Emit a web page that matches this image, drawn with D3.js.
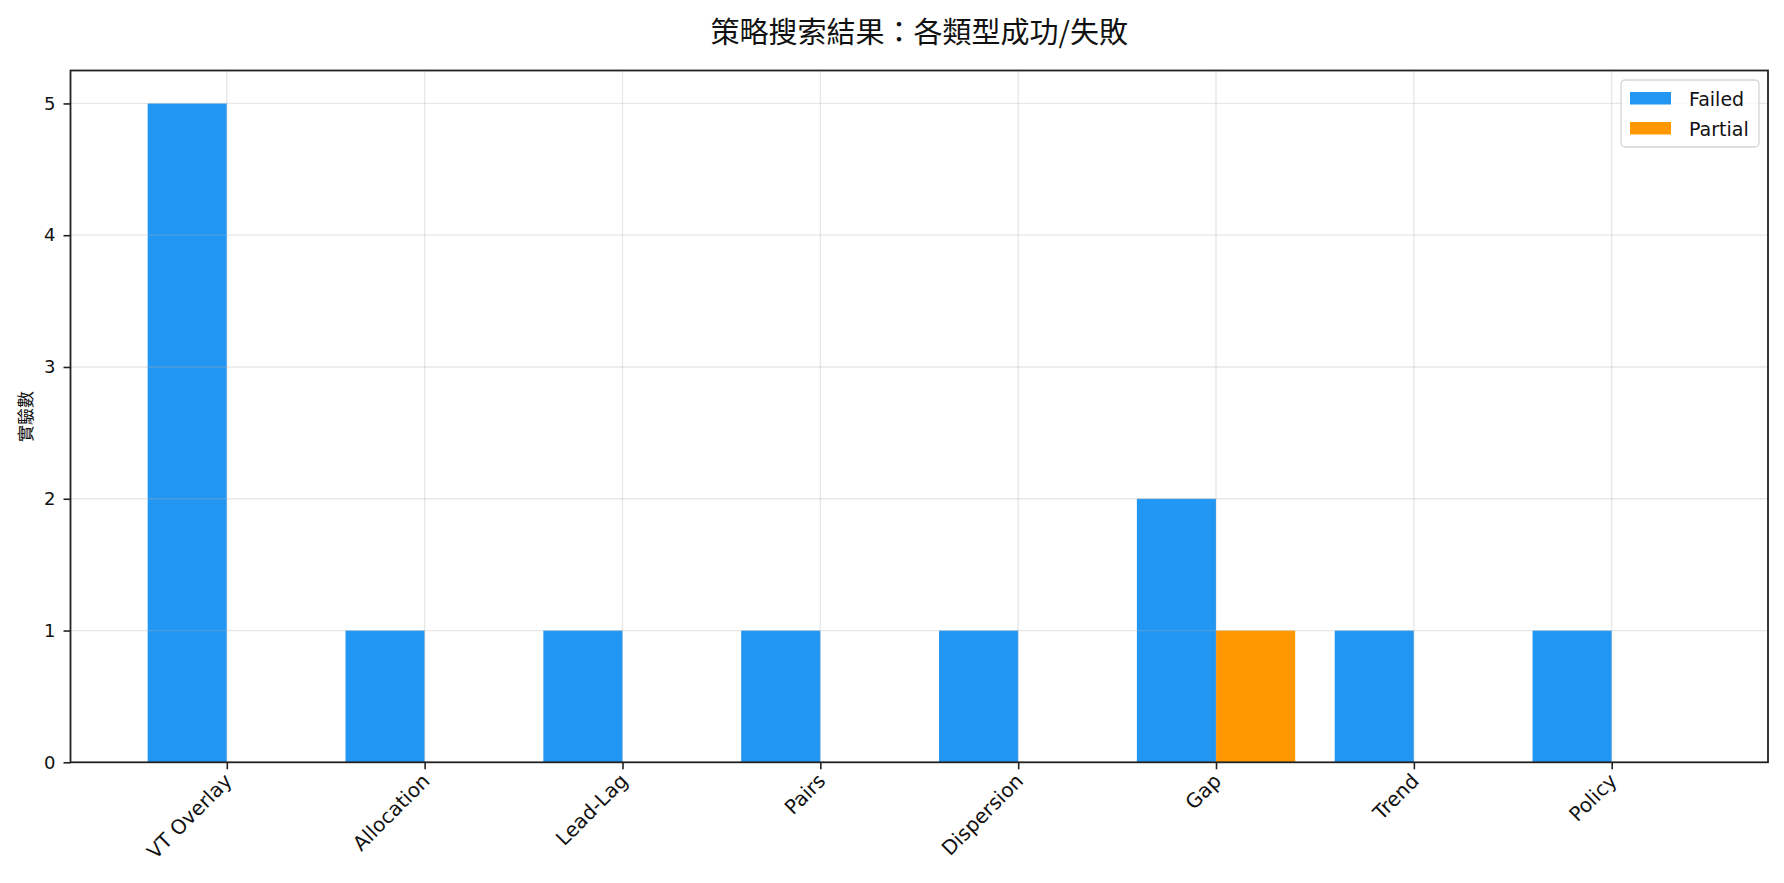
<!DOCTYPE html>
<html>
<head>
<meta charset="utf-8">
<script src="https://cdn.jsdelivr.net/npm/d3@7"></script>
<style>
  html, body { margin: 0; padding: 0; background: #fff; }
  svg { display: block; }
  .tick text { font-family: "DejaVu Sans", sans-serif; font-size: 18px; fill: #111; }
  .xax .tick text { font-size: 20px; }
</style>
</head>
<body>
<div id="chart"></div>
<script>
// data
var categories = ["VT Overlay", "Allocation", "Lead-Lag", "Pairs", "Dispersion", "Gap", "Trend", "Policy"];
var failedCounts = [5, 1, 1, 1, 1, 2, 1, 1];
var partialCounts = [0, 0, 0, 0, 0, 1, 0, 0];
var yTicks = [0, 1, 2, 3, 4, 5];
var seriesNames = ["Failed", "Partial"];
var seriesColors = ["#2196F3", "#FF9800"];

var W = 1784, H = 883;
var m = {left: 70.5, right: 1768, top: 70.5, bottom: 762.3};
var barW = 0.4;

var svg = d3.select("#chart").append("svg")
    .attr("width", W)
    .attr("height", H);

// matplotlib style margins: 5% around the bar extents
var x = d3.scaleLinear()
    .domain([-0.79, categories.length - 1 + 0.79])
    .range([m.left, m.right]);
var y = d3.scaleLinear()
    .domain([0, 5.25])
    .range([m.bottom, m.top]);

var series = [failedCounts, partialCounts];

// bars
series.forEach(function(vals, si) {
    svg.append("g").selectAll("rect")
        .data(vals)
        .join("rect")
        .attr("x", (d, i) => x(i + (si - 1) * barW))
        .attr("width", x(barW) - x(0))
        .attr("y", d => y(d))
        .attr("height", d => y(0) - y(d))
        .attr("fill", seriesColors[si]);
});

// grid drawn on top, faint
var grid = svg.append("g")
    .attr("stroke", "#b0b0b0")
    .attr("stroke-opacity", 0.3)
    .attr("stroke-width", 1.3);
grid.selectAll("line.h")
    .data(yTicks)
    .join("line")
    .attr("class", "h")
    .attr("x1", m.left).attr("x2", m.right)
    .attr("y1", d => y(d)).attr("y2", d => y(d));
grid.selectAll("line.v")
    .data(categories)
    .join("line")
    .attr("class", "v")
    .attr("y1", m.top).attr("y2", m.bottom)
    .attr("x1", (d, i) => x(i)).attr("x2", (d, i) => x(i));

// axes
var xAxis = svg.append("g")
    .attr("class", "xax")
    .attr("transform", `translate(0,${m.bottom})`)
    .call(d3.axisBottom(x)
        .tickValues(d3.range(categories.length))
        .tickFormat(i => categories[i])
        .tickSize(7)
        .tickSizeOuter(0));
xAxis.selectAll(".tick text")
    .attr("text-anchor", "end")
    .attr("dy", null)
    .attr("y", null)
    .attr("transform", "translate(2,16) rotate(-45)")
    .attr("dominant-baseline", "middle");

var yAxis = svg.append("g")
    .attr("transform", `translate(${m.left},0)`)
    .call(d3.axisLeft(y)
        .tickValues(yTicks)
        .tickFormat(d3.format("d"))
        .tickSize(7)
        .tickPadding(8)
        .tickSizeOuter(0));

svg.selectAll(".domain").remove();
svg.selectAll(".tick line").attr("stroke", "#222").attr("stroke-width", 1.6);

// frame
svg.append("rect")
    .attr("x", m.left).attr("y", m.top)
    .attr("width", m.right - m.left)
    .attr("height", m.bottom - m.top)
    .attr("fill", "none")
    .attr("stroke", "#222")
    .attr("stroke-width", 1.8);

// title and y label
svg.append("text")
    .attr("x", (m.left + m.right) / 2)
    .attr("y", 30)
    .attr("text-anchor", "middle")
    .attr("dominant-baseline", "central")
    .style("font-family", "'Noto Sans CJK TC', sans-serif")
    .style("font-size", "29px")
    .style("fill", "#111")
    .text("策略搜索結果：各類型成功/失敗");

svg.append("text")
    .attr("transform", `translate(24,${(m.top + m.bottom) / 2}) rotate(-90)`)
    .attr("text-anchor", "middle")
    .attr("dominant-baseline", "central")
    .style("font-family", "'Noto Sans CJK TC', sans-serif")
    .style("font-size", "17px")
    .style("fill", "#111")
    .text("實驗數");

// legend
var lg = svg.append("g").attr("transform", "translate(1621,80)");
lg.append("rect")
    .attr("width", 138).attr("height", 67)
    .attr("rx", 4)
    .attr("fill", "#fff")
    .attr("fill-opacity", 0.8)
    .attr("stroke", "#d5d5d5")
    .attr("stroke-width", 1.3);
var items = lg.selectAll("g.item")
    .data(seriesNames)
    .join("g")
    .attr("class", "item")
    .attr("transform", (d, i) => `translate(9,${12 + i * 30})`);
items.append("rect")
    .attr("width", 41).attr("height", 12.5)
    .attr("fill", (d, i) => seriesColors[i]);
items.append("text")
    .attr("x", 59).attr("y", 6.5)
    .attr("dominant-baseline", "central")
    .style("font-family", "'DejaVu Sans', sans-serif")
    .style("font-size", "19px")
    .style("fill", "#111")
    .text(d => d);
</script>
</body>
</html>
